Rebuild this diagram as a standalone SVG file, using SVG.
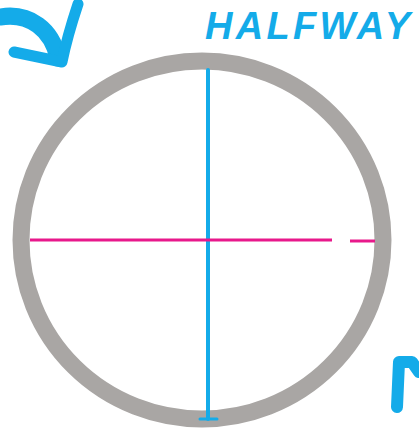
<svg xmlns="http://www.w3.org/2000/svg" width="419" height="436" viewBox="0 0 419 436">
<style>
.blue{stroke:#14abe9;fill:none;stroke-linecap:round;stroke-linejoin:round}
.pink{stroke:#e8198b;stroke-width:3;fill:none}
.lbl{font-family:"Liberation Sans",Arial,sans-serif;font-weight:bold;font-style:italic;fill:#14abe9}
</style>
<rect width="419" height="436" fill="#fff"/>
<g id="circle">
<ellipse cx="202" cy="240" rx="181" ry="179" fill="none" stroke="#a9a6a4" stroke-width="17"/>
</g>
<g id="connectors">
<line class="blue" x1="208" y1="70" x2="208" y2="419" stroke-width="4"/>
<line class="blue" x1="200" y1="419" x2="217" y2="419" stroke-width="3"/>
<line class="pink" x1="30" y1="240" x2="332" y2="240"/>
<line class="pink" x1="350" y1="241" x2="375" y2="241"/>
</g>
<g id="arrow-top-left">
<path class="blue" stroke-width="17" d="M0 17 C30 12 52 30 58 58"/>
<path class="blue" stroke-width="11" d="M78 4 C72 22 66 42 62 62 L14 52"/>
</g>
<g id="arrow-bottom-right">
<path class="blue" stroke-width="12" d="M397 407 L399 362 L412 362 L419 372"/>
</g>
<g id="label">
<text class="lbl" x="205" y="39" font-size="38" textLength="205" lengthAdjust="spacing">HALFWAY</text>
</g>
</svg>
